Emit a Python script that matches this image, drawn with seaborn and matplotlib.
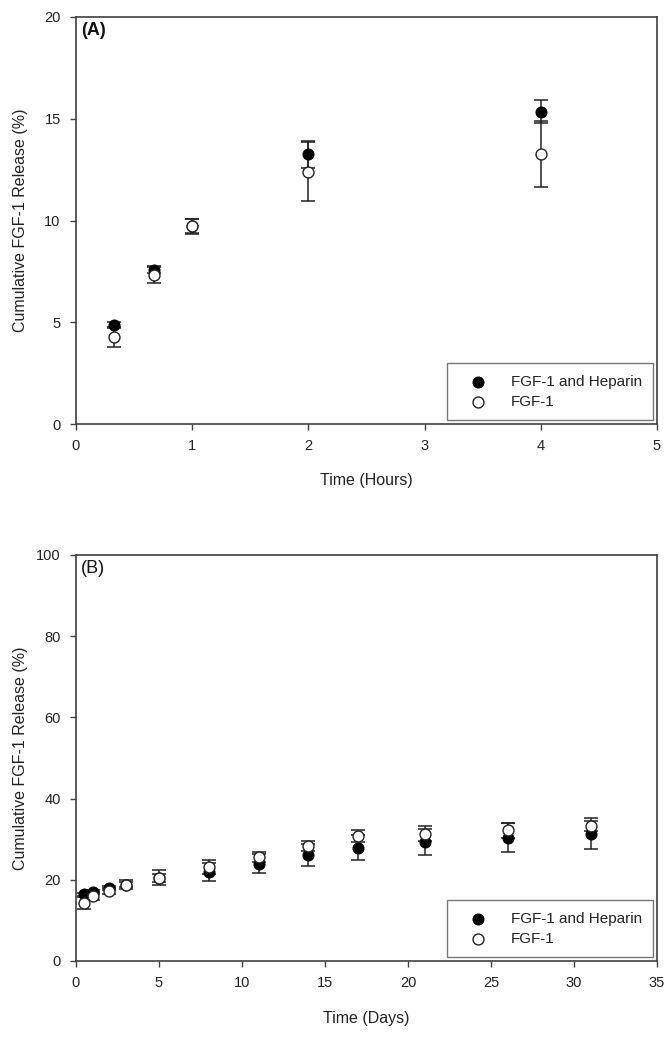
import matplotlib
matplotlib.use("Agg")
import matplotlib.pyplot as plt
import seaborn as sns
import pandas as pd

sns.set_style("ticks")
plt.rcParams['font.family'] = ['Liberation Sans', 'DejaVu Sans']

# panel A - hours
hours = [0.33, 0.67, 1.0, 2.0, 4.0]
hep_a = [4.87, 7.55, 9.74, 13.25, 15.35]
hep_a_err = [0.12, 0.15, 0.35, 0.65, 0.55]
fgf_a = [4.26, 7.34, 9.72, 12.4, 13.25]
fgf_a_err = [0.46, 0.4, 0.37, 1.46, 1.62]

# panel B - days
days = [0.5, 1, 2, 3, 5, 8, 11, 14, 17, 21, 26, 31]
hep_b = [16.4, 16.9, 18.0, 18.8, 20.5, 21.9, 24.0, 26.0, 27.9, 29.3, 30.4, 31.4]
hep_b_err = [0.4, 0.5, 0.5, 0.6, 1.0, 2.2, 2.3, 2.7, 3.1, 3.2, 3.5, 3.7]
fgf_b = [14.2, 16.0, 17.3, 18.8, 20.5, 23.1, 25.6, 28.3, 30.8, 31.4, 32.2, 33.2]
fgf_b_err = [1.5, 1.0, 0.7, 1.1, 1.8, 1.7, 1.3, 1.2, 1.5, 1.8, 1.8, 1.3]

labels = ["FGF-1 and Heparin", "FGF-1"]
edge = "#404040"
txt = "#222222"

fig = plt.figure(figsize=(6.7, 10.5), dpi=100)
ax_a = fig.add_axes([76/670, 1 - 424/1050, 581/670, 407/1050])
ax_b = fig.add_axes([76/670, 1 - 961/1050, 581/670, 406/1050])


def draw_panel(ax, x, hep, hep_err, fgf, fgf_err):
    ax.errorbar(x, hep, yerr=hep_err, fmt='none', ecolor=txt,
                elinewidth=1.1, capsize=5, capthick=1.1, zorder=2)
    ax.errorbar(x, fgf, yerr=fgf_err, fmt='none', ecolor=txt,
                elinewidth=1.1, capsize=5, capthick=1.1, zorder=2)
    df_h = pd.DataFrame({"x": x, "y": hep})
    df_f = pd.DataFrame({"x": x, "y": fgf})
    sns.scatterplot(data=df_h, x="x", y="y", ax=ax, s=62, color="black",
                    edgecolor="black", linewidth=0.8, label=labels[0], zorder=3)
    sns.scatterplot(data=df_f, x="x", y="y", ax=ax, s=62, facecolor="white",
                    edgecolor=txt, linewidth=1.0, label=labels[1], zorder=4)
    for sp in ax.spines.values():
        sp.set_color(edge)
        sp.set_linewidth(1.2)
    ax.tick_params(axis='both', direction='out', length=4, width=1.0,
                   color=edge, labelsize=10.5, labelcolor=txt, pad=7)
    ax.tick_params(top=False, right=False)
    leg = ax.legend(loc='lower right', frameon=True, fancybox=False,
                    fontsize=11, borderpad=0.75, handletextpad=0.9,
                    labelspacing=0.4, borderaxespad=0.25, markerscale=1.0,
                    handlelength=2.5)
    leg.get_frame().set_edgecolor('#555555')
    leg.get_frame().set_linewidth(1.0)
    for t in leg.get_texts():
        t.set_color(txt)
    ax.yaxis.set_label_coords(-0.083, 0.5)


draw_panel(ax_a, hours, hep_a, hep_a_err, fgf_a, fgf_a_err)
ax_a.set_xlim(0, 5)
ax_a.set_ylim(0, 20)
ax_a.set_xticks(range(0, 6))
ax_a.set_yticks(range(0, 21, 5))
ax_a.set_xlabel("Time (Hours)", fontsize=11.5, color=txt)
ax_a.set_ylabel("Cumulative FGF-1 Release (%)", fontsize=11.5, color=txt)
ax_a.xaxis.set_label_coords(0.5, -0.12)
ax_a.text(0.008, 0.988, "(A)", transform=ax_a.transAxes, ha='left', va='top',
          fontsize=13, fontweight='bold', color='#111111')

draw_panel(ax_b, days, hep_b, hep_b_err, fgf_b, fgf_b_err)
ax_b.set_xlim(0, 35)
ax_b.set_ylim(0, 100)
ax_b.set_xticks(range(0, 36, 5))
ax_b.set_yticks(range(0, 101, 20))
ax_b.set_xlabel("Time (Days)", fontsize=11.5, color=txt)
ax_b.set_ylabel("Cumulative FGF-1 Release (%)", fontsize=11.5, color=txt)
ax_b.xaxis.set_label_coords(0.5, -0.123)
ax_b.text(0.008, 0.988, "(B)", transform=ax_b.transAxes, ha='left', va='top',
          fontsize=13, color='#111111')

fig.savefig("out.png", dpi=100)
